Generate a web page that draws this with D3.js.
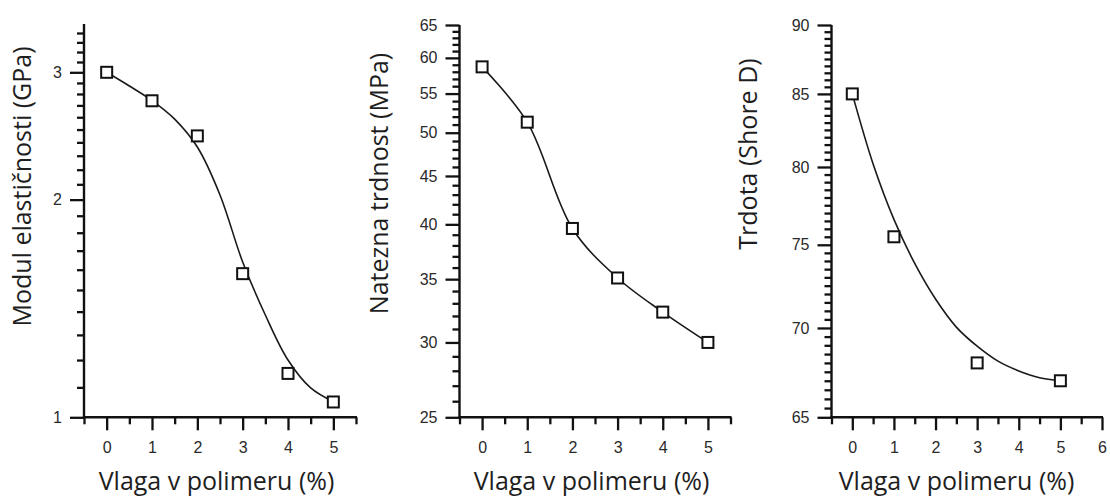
<!DOCTYPE html>
<html>
<head>
<meta charset="utf-8">
<script src="https://cdn.jsdelivr.net/npm/d3@7"></script>
<style>
  html, body { margin: 0; padding: 0; background: #fff; }
  svg { display: block; }
  .tick text { font-family: "Liberation Sans", Arial, sans-serif; font-size: 16px; fill: #2a2a2a; }
  .axis-title { font-family: "Open Sans", sans-serif; font-size: 25px; fill: #1e1e1e; }
</style>
</head>
<body>
<svg id="chart" width="1110" height="496"></svg>
<script>
// Moisture content in the polymer (%) and the measured properties
const moistureModulus = [0, 1, 2, 3, 4, 5];
const modulusGPa = [3.0, 2.74, 2.45, 1.58, 1.15, 1.05];
const modulusFitX = [0, 0.5, 1, 1.5, 2, 2.5, 3, 3.5, 4, 4.5, 5];
const modulusFitY = [3.0, 2.872, 2.742, 2.585, 2.365, 2.03, 1.64, 1.385, 1.2, 1.098, 1.051];

const moistureStrength = [0, 1, 2, 3, 4, 5];
const strengthMPa = [58.7, 51.3, 39.6, 35.1, 32.3, 30.0];

const moistureHardness = [0, 1, 3, 5];
const hardnessShoreD = [85.0, 75.5, 68.0, 67.0];
const hardnessFitX = [0, 0.5, 1, 1.5, 2, 2.5, 3, 3.5, 4, 4.5, 5];
const hardnessFitY = [85.0, 80.2, 76.6, 73.85, 71.7, 70.05, 68.95, 68.1, 67.55, 67.17, 67.0];

// Tick labels
const xTicks05 = [0, 1, 2, 3, 4, 5];
const xTicks06 = [0, 1, 2, 3, 4, 5, 6];
const yTicksModulus = [1, 2, 3];
const yTicksStrength = [25, 30, 35, 40, 45, 50, 55, 60, 65];
const yTicksHardness = [65, 70, 75, 80, 85, 90];

const xTitle = "Vlaga v polimeru (%)";

const svg = d3.select("#chart");
const INK = "#111";
const baseY = 417.3;

const panels = [
  {
    title: "Modul elastičnosti (GPa)", titleX: 30.5, titleY: 186.5, xTitleX: 216.5,
    xDomain: [-0.5, 5.5], xRange: [84, 356], xMajor: xTicks05,
    yDomain: [1, 3.5], yRange: [baseY, 23.9], yMajor: yTicksModulus,
    yMinor: d3.range(1.1, 3.45, 0.1).map(v => +v.toFixed(2)).filter(v => !yTicksModulus.includes(v)),
    px: moistureModulus, py: modulusGPa, fx: modulusFitX, fy: modulusFitY
  },
  {
    title: "Natezna trdnost (MPa)", titleX: 387.5, titleY: 183.5, xTitleX: 591.5,
    xDomain: [-0.5, 5.5], xRange: [459.5, 730.5], xMajor: xTicks05,
    yDomain: [25, 65], yRange: [baseY, 25], yMajor: yTicksStrength,
    yMinor: d3.range(26, 65, 1).filter(v => v % 5 !== 0),
    px: moistureStrength, py: strengthMPa, fx: moistureStrength, fy: strengthMPa
  },
  {
    title: "Trdota (Shore D)", titleX: 757, titleY: 154, xTitleX: 956.5,
    xDomain: [-0.5, 6], xRange: [831.5, 1102], xMajor: xTicks06,
    yDomain: [65, 90], yRange: [baseY, 25], yMajor: yTicksHardness,
    yMinor: d3.range(65.5, 90, 0.5).filter(v => v % 5 !== 0),
    px: moistureHardness, py: hardnessShoreD, fx: hardnessFitX, fy: hardnessFitY
  }
];

panels.forEach(p => {
  const x = d3.scaleLinear().domain(p.xDomain).range(p.xRange);
  const y = d3.scaleLog().domain(p.yDomain).range(p.yRange);
  const g = svg.append("g");
  const x0 = p.xRange[0];

  // x axis: major ticks on integers, minor on halves
  const xMinor = d3.range(p.xDomain[0], p.xDomain[1] + 0.01, 0.5).filter(v => !p.xMajor.includes(v));
  g.append("g").attr("transform", `translate(0,${baseY})`)
    .call(d3.axisBottom(x).tickValues(xMinor).tickSize(7).tickSizeOuter(0).tickFormat(""))
    .call(a => a.select(".domain").remove());
  g.append("g").attr("transform", `translate(0,${baseY})`)
    .call(d3.axisBottom(x).tickValues(p.xMajor).tickSize(13).tickSizeOuter(0).tickPadding(11).tickFormat(d3.format("d")))
    .call(a => a.select(".domain").remove());

  // y axis: log scale, labelled major ticks and short minor ticks
  g.append("g").attr("transform", `translate(${x0},0)`)
    .call(d3.axisLeft(y).tickValues(p.yMinor).tickSize(7).tickSizeOuter(0).tickFormat(""))
    .call(a => a.select(".domain").remove());
  g.append("g").attr("transform", `translate(${x0},0)`)
    .call(d3.axisLeft(y).tickValues(p.yMajor).tickSize(14).tickSizeOuter(0).tickPadding(8).tickFormat(d3.format("d")))
    .call(a => a.select(".domain").remove());

  g.selectAll(".tick line").attr("stroke", INK).attr("stroke-width", 2.3);

  // axis lines
  g.append("line").attr("x1", x0).attr("x2", x0).attr("y1", p.yRange[1]).attr("y2", baseY)
    .attr("stroke", INK).attr("stroke-width", 2.4);
  g.append("line").attr("x1", x0 - 1).attr("x2", p.xRange[1] + 1).attr("y1", baseY).attr("y2", baseY)
    .attr("stroke", INK).attr("stroke-width", 2.4);

  // fitted curve
  const fit = p.fx.map((v, i) => [v, p.fy[i]]);
  g.append("path").datum(fit)
    .attr("fill", "none").attr("stroke", "#1a1a1a").attr("stroke-width", 1.6)
    .attr("d", d3.line().x(d => x(d[0])).y(d => y(d[1])).curve(d3.curveCatmullRom.alpha(0.5)));

  // measured points as open squares
  const pts = p.px.map((v, i) => [v, p.py[i]]);
  const s = 11;
  g.selectAll("rect.pt").data(pts).join("rect").attr("class", "pt")
    .attr("x", d => x(d[0]) - s / 2).attr("y", d => y(d[1]) - s / 2)
    .attr("width", s).attr("height", s)
    .attr("fill", "#fff").attr("stroke", INK).attr("stroke-width", 2);

  // axis titles
  g.append("text").attr("class", "axis-title")
    .attr("transform", `translate(${p.titleX},${p.titleY}) rotate(-90)`)
    .attr("text-anchor", "middle").text(p.title);
  g.append("text").attr("class", "axis-title")
    .attr("x", p.xTitleX).attr("y", 489.5).attr("text-anchor", "middle").text(xTitle);
});
</script>
</body>
</html>
